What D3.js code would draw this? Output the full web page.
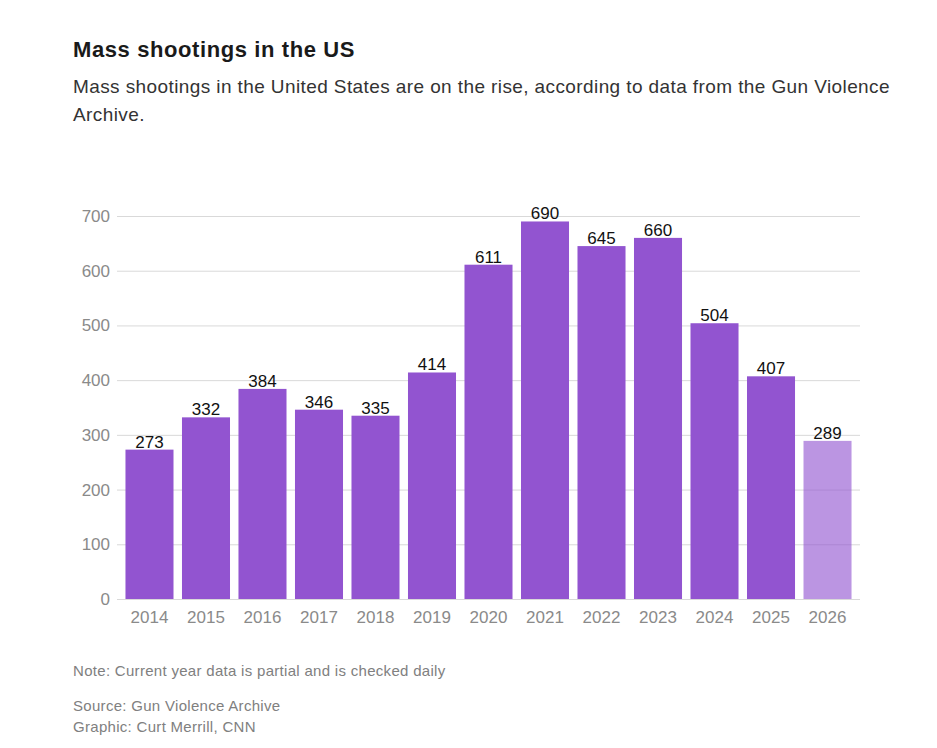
<!DOCTYPE html>
<html>
<head>
<meta charset="utf-8">
<script src="https://cdn.jsdelivr.net/npm/d3@7"></script>
<style>
  html, body { margin: 0; padding: 0; background: #fff; }
  svg { display: block; font-family: "Liberation Sans", Arial, Helvetica, sans-serif; }
</style>
</head>
<body>
<svg id="chart" width="937" height="748"></svg>
<script>
const years = ["2014","2015","2016","2017","2018","2019","2020","2021","2022","2023","2024","2025","2026"];
const shootings = [273, 332, 384, 346, 335, 414, 611, 690, 645, 660, 504, 407, 289];
const partialYears = ["2026"];
const yTicks = [0, 100, 200, 300, 400, 500, 600, 700];

const title = "Mass shootings in the US";
const subtitleLines = ["Mass shootings in the United States are on the rise, according to data from the Gun Violence", "Archive."];
const note = "Note: Current year data is partial and is checked daily";
const sourceLines = ["Source: Gun Violence Archive", "Graphic: Curt Merrill, CNN"];

const svg = d3.select("#chart");

svg.append("text").attr("x", 73).attr("y", 57)
  .attr("font-size", 22).attr("font-weight", "bold").attr("fill", "#1a1a1a")
  .attr("letter-spacing", 0.6)
  .text(title);

svg.selectAll("text.sub").data(subtitleLines).join("text")
  .attr("class", "sub")
  .attr("x", 73).attr("y", (d, i) => 93 + i * 28)
  .attr("font-size", 19).attr("fill", "#333").attr("letter-spacing", 0.4)
  .text(d => d);

const x = d3.scaleBand().domain(years).range([117, 860]).paddingInner(0.15).paddingOuter(0.15);
const y = d3.scaleLinear().domain([0, 700]).range([599, 216]);

// gridlines
const yAxis = svg.append("g").attr("transform", "translate(117,0)")
  .call(d3.axisLeft(y).tickValues(yTicks).tickSize(-(860 - 117)).tickPadding(7));
yAxis.select(".domain").remove();
yAxis.selectAll(".tick line").attr("stroke", "#d9d9d9").attr("stroke-width", 1);
yAxis.selectAll(".tick text").attr("font-size", 17).attr("fill", "#8a8a8a")
  .attr("font-family", "Liberation Sans, Arial, sans-serif");

// bars
svg.append("g").selectAll("rect").data(years).join("rect")
  .attr("x", d => x(d))
  .attr("width", x.bandwidth())
  .attr("y", (d, i) => y(shootings[i]))
  .attr("height", (d, i) => y(0) - y(shootings[i]))
  .attr("fill", "#9254d0")
  .attr("fill-opacity", d => partialYears.includes(d) ? 0.62 : 1);

// value labels
svg.append("g").selectAll("text").data(years).join("text")
  .attr("x", d => x(d) + x.bandwidth() / 2)
  .attr("y", (d, i) => y(shootings[i]) - 2)
  .attr("text-anchor", "middle")
  .attr("font-size", 17).attr("fill", "#111")
  .text((d, i) => shootings[i]);

// x axis
const xAxis = svg.append("g").attr("transform", "translate(0,599)")
  .call(d3.axisBottom(x).tickSize(0).tickPadding(12));
xAxis.select(".domain").remove();
xAxis.selectAll(".tick text").attr("font-size", 17).attr("fill", "#8a8a8a")
  .attr("font-family", "Liberation Sans, Arial, sans-serif");

svg.append("text").attr("x", 73).attr("y", 676)
  .attr("font-size", 15).attr("fill", "#808080").attr("letter-spacing", 0.3).text(note);

svg.selectAll("text.src").data(sourceLines).join("text")
  .attr("class", "src")
  .attr("x", 73).attr("y", (d, i) => 711 + i * 21)
  .attr("font-size", 15).attr("fill", "#808080").attr("letter-spacing", 0.3)
  .text(d => d);
</script>
</body>
</html>
